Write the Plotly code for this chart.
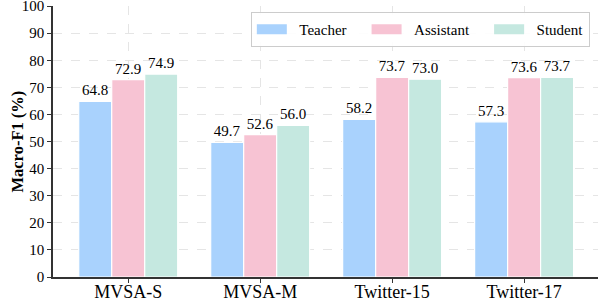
import plotly.graph_objects as go

categories = ["MVSA-S", "MVSA-M", "Twitter-15", "Twitter-17"]
series_names = ["Teacher", "Assistant", "Student"]
teacher = [64.8, 49.7, 58.2, 57.3]
assistant = [72.9, 52.6, 73.7, 73.6]
student = [74.9, 56.0, 73.0, 73.7]
y_ticks = [0, 10, 20, 30, 40, 50, 60, 70, 80, 90, 100]
y_title = "Macro-F1 (%)"

colors = ["#A9D2FD", "#F7C3D3", "#C5E8E0"]
values = [teacher, assistant, student]

FONT = "Liberation Serif, Times New Roman, Times, serif"
NB = "\u00a0"

fig = go.Figure()
for i, (name, vals, col) in enumerate(zip(series_names, values, colors)):
    fig.add_trace(go.Bar(
        x=categories, y=vals, name=name,
        marker=dict(color=col, line=dict(color="white", width=1.2)),
        text=[f"{v:.1f}" for v in vals], textposition="outside",
        textfont=dict(family=FONT, size=15, color="black"),
        cliponaxis=False, showlegend=False,
    ))
    trailing = NB * 4 if i < len(series_names) - 1 else ""
    fig.add_trace(go.Scatter(
        x=[None], y=[None], mode="lines", name=NB * 2 + name + trailing,
        line=dict(color=col, width=10), showlegend=True,
    ))

fig.update_layout(
    width=605, height=302,
    margin=dict(l=53, r=7, t=6, b=25, autoexpand=False),
    paper_bgcolor="white", plot_bgcolor="white",
    barmode="group", bargap=0.25, bargroupgap=0,
    font=dict(family=FONT, color="black"),
    legend=dict(
        orientation="h", x=0.985, xanchor="right", y=0.978, yanchor="top",
        bordercolor="#CCCCCC", borderwidth=1, bgcolor="rgba(255,255,255,0.9)",
        font=dict(family=FONT, size=15, color="black"),
        itemwidth=30, traceorder="normal",
    ),
    annotations=[dict(
        text="<b>" + y_title + "</b>", xref="paper", yref="paper",
        x=-0.066, y=0.5, xanchor="center", yanchor="middle", textangle=-90,
        showarrow=False, font=dict(family=FONT, size=16.5, color="black"),
    )],
)
fig.update_xaxes(
    range=[-0.57, 3.56], showline=True, linecolor="#333333", linewidth=1.5,
    ticks="outside", ticklen=4, tickcolor="#333333", tickwidth=1,
    tickfont=dict(family=FONT, size=18, color="black"),
    automargin=False, ticklabeloverflow="allow", ticklabelstandoff=-6,
    showgrid=True, gridcolor="#E5E5E5", griddash="dash", gridwidth=1,
    mirror=False, zeroline=False,
)
fig.update_yaxes(
    range=[0, 100.05], tickvals=y_ticks, showline=True, linecolor="#333333", linewidth=1.5,
    ticks="outside", ticklen=4, tickcolor="#333333", tickwidth=1,
    tickfont=dict(family=FONT, size=15, color="black"),
    automargin=False, ticklabeloverflow="allow",
    showgrid=True, gridcolor="#E5E5E5", griddash="dash", gridwidth=1,
    zeroline=False,
)

fig.write_html(
    "out.html",
    config={"responsive": False, "displayModeBar": False},
    post_script="document.body.style.margin='0';document.body.style.padding='0';document.body.style.overflow='hidden';",
)
